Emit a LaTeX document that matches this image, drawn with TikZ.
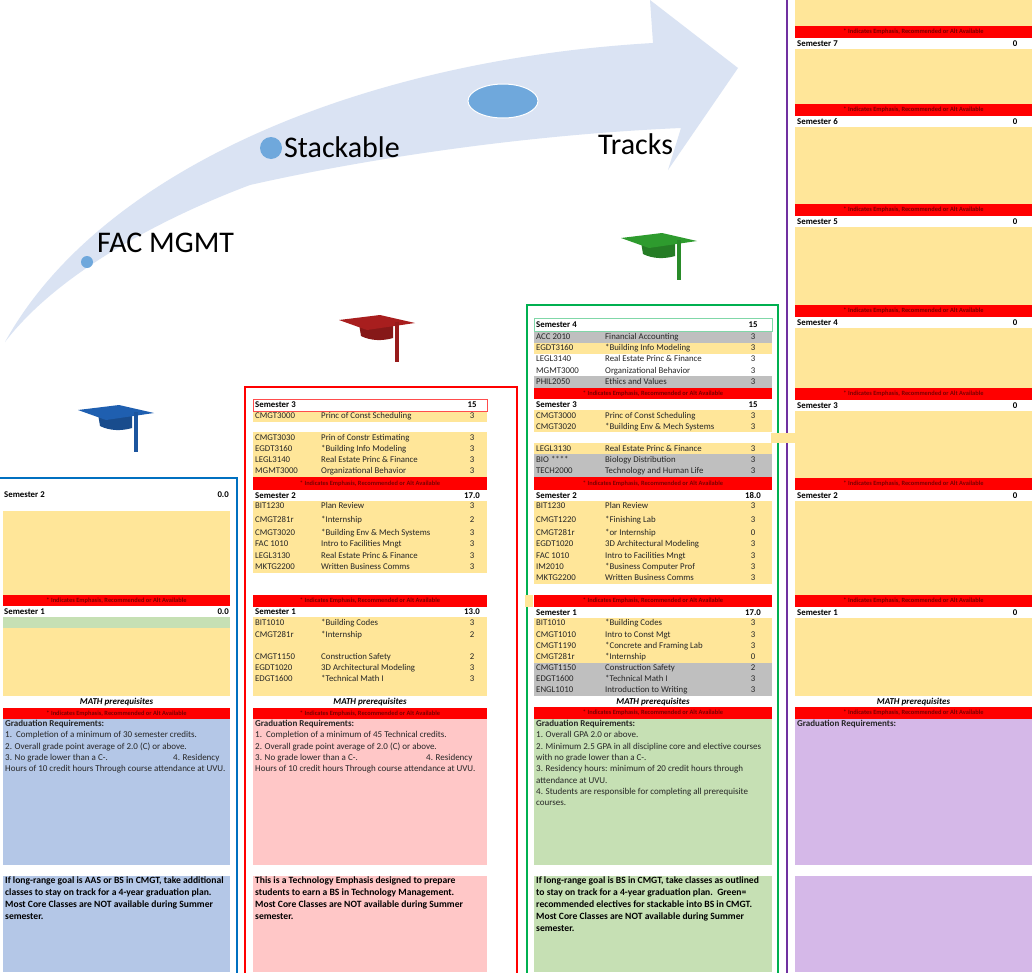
\documentclass[tikz,border=0pt]{standalone}
\usepackage{fontspec}
\setmainfont{Carlito}
\definecolor{arrowfill}{HTML}{DAE3F3}
\definecolor{dotblue}{HTML}{6FA8DC}
\definecolor{cyel}{HTML}{FFE699}
\definecolor{cgrey}{HTML}{BFBFBF}
\definecolor{cred}{HTML}{FF0000}
\definecolor{notered}{HTML}{7A0000}
\definecolor{cblue}{HTML}{B4C7E7}
\definecolor{cpink}{HTML}{FFC7C7}
\definecolor{cgreen}{HTML}{C6E0B4}
\definecolor{cpurple}{HTML}{D5B8E8}
\definecolor{fblue}{HTML}{0070C0}
\definecolor{fgreen}{HTML}{00B050}
\definecolor{fpurple}{HTML}{7030A0}
\definecolor{rowtext}{HTML}{262626}
\definecolor{capblue}{HTML}{1F5FB0}
\definecolor{capred}{HTML}{A81E1E}
\definecolor{capgreen}{HTML}{2E9B2E}
\newcommand\altnote{* Indicates Emphasis, Recommended or Alt Available}
\tikzset{pics/gradcap/.style={code={
  \fill[#1!80!black] (-18,2) -- (-16,14) .. controls (-6,19) and (6,19) .. (16,16) -- (16,2) -- cycle;
  \fill[#1] (-38,-2) -- (3,-7) -- (38,1) -- (-10,8) -- cycle;
  \draw[#1!90!black, line width=3.5pt] (20,0) -- (20,40);
}}}

\begin{document}
\begin{tikzpicture}
  [x=1pt,y=-1pt,
   txt/.style={anchor=west,inner sep=0pt,text height=6pt,text depth=1pt,font=\fontsize{8.8}{9}\selectfont,text=rowtext},
   num/.style={txt,anchor=center},
   semtxt/.style={txt,text=black,font=\fontsize{8.8}{9}\selectfont\bfseries},
   semnum/.style={semtxt,anchor=center},
   notetxt/.style={inner sep=0pt,text=notered,font=\fontsize{6.4}{7}\selectfont\bfseries},
   mathtxt/.style={inner sep=0pt,text height=6pt,text depth=1pt,font=\fontsize{9}{9}\selectfont\bfseries\itshape},
   gradtxt/.style={anchor=north west,inner sep=0pt,align=left,text=rowtext,font=\fontsize{9}{11.3}\selectfont},
   goaltxt/.style={anchor=north west,inner sep=0pt,align=left,font=\fontsize{9.6}{12}\selectfont\bfseries},
   bigtxt/.style={anchor=west,inner sep=0pt,text height=19pt,text depth=0pt,font=\fontsize{30}{31}\selectfont}]
  \useasboundingbox (0,0) rectangle (1036,972);
  \fill[white] (0,0) rectangle (1036,972);

  % arrow
  \fill[arrowfill] (5,342) .. controls (100,170) and (360,60) .. (653,43) -- (650,0) -- (738,68) -- (668,170) -- (681,128)
    .. controls (520,135) and (360,160) .. (250,185) .. controls (170,215) and (60,270) .. (5,342) -- cycle;
  \fill[dotblue] (87,262) circle (6);
  \fill[dotblue] (271,148) circle (11);
  \fill[dotblue, draw=white, line width=1pt] (503,101) ellipse [x radius=35, y radius=17];
  \node[bigtxt] (facmgmt) at (97,243) {FAC MGMT};
  \node[bigtxt] (stackable) at (284,148) {Stackable};
  \node[bigtxt] (tracks) at (598,145) {Tracks};

  \pic at (116,412) {gradcap=capblue};
  \pic at (377,322) {gradcap=capred};
  \pic at (659,240) {gradcap=capgreen};

  % frames
  \draw[fblue, line width=2.5pt] (-5,478) -- (237,478) -- (237,980);
  \draw[cred, line width=2.5pt] (245,980) -- (245,387) -- (517,387) -- (517,980);
  \draw[fgreen, line width=2.5pt] (527,980) -- (527,305) -- (778,305) -- (778,980);
  \draw[fpurple, line width=2.5pt] (787,-5) -- (787,980);

  % FAC MGMT column
  \fill[cyel] (3,511) rectangle (230,595);
  \fill[cred] (3,595) rectangle (230,606);
  \fill[cgreen] (3,617) rectangle (230,628);
  \fill[cyel] (3,628) rectangle (230,696);
  \fill[cred] (3,708) rectangle (230,719);
  \fill[cblue] (3,719) rectangle (230,865);
  \fill[cblue] (3,876) rectangle (230,972);
  \node[semtxt] (l2) at (4,495) {Semester 2};
  \node[semtxt,anchor=east] (l2n) at (229,495) {0.0};
  \node[notetxt] (ln1) at (116.5,600.5) {\altnote};
  \node[semtxt] (l1) at (4,611.5) {Semester 1};
  \node[semtxt,anchor=east] (l1n) at (229,611.5) {0.0};
  \node[mathtxt] (lmath) at (116.5,702) {MATH prerequisites};
  \node[notetxt] (ln0) at (116.5,713.5) {\altnote};
  \node[gradtxt] (lgrad) at (5,720) {\textbf{Graduation Requirements:}\\
    1.\ \ Completion of a minimum of 30 semester credits.\\
    2. Overall grade point average of 2.0 (C) or above.\\
    \makebox[168pt][l]{3. No grade lower than a C-.}4. Residency\\
    Hours of 10 credit hours Through course attendance at UVU.};
  \node[goaltxt] (lgoal) at (5,877) {If long-range goal is AAS or BS in CMGT, take additional\\
    classes to stay on track for a 4-year graduation plan.\\
    Most Core Classes are NOT available during Summer\\
    semester.};

  % Stackable column
  \fill[cyel] (253,411) rectangle (487,422);
  \fill[cyel] (253,432) rectangle (487,477);
  \fill[cred] (253,477) rectangle (487,490);
  \fill[cyel] (253,501) rectangle (487,573);
  \fill[cred] (253,595) rectangle (487,607);
  \fill[cyel] (253,617) rectangle (487,696);
  \fill[cred] (253,708) rectangle (487,719);
  \fill[cpink] (253,719) rectangle (487,865);
  \fill[cpink] (253,876) rectangle (487,972);
  \draw[cred!70, line width=1pt] (253,399) rectangle (487,411);
  \node[semtxt] (s3) at (255,405) {Semester 3};
  \node[semnum] (s3n) at (472,405) {15};
  \node[notetxt] (sn2) at (370,483.5) {\altnote};
  \node[semtxt] (s2) at (255,495.5) {Semester 2};
  \node[semnum] (s2n) at (472,495.5) {17.0};
  \node[notetxt] (sn1) at (370,601) {\altnote};
  \node[semtxt] (s1) at (255,612) {Semester 1};
  \node[semnum] (s1n) at (472,612) {13.0};
  \foreach \yy/\code/\ctitle/\nm [count=\i] in {416/CMGT3000/Princ of Const Scheduling/3,
      438/CMGT3030/Prin of Constr Estimating/3, 449/EGDT3160/*Building Info Modeling/3,
      460/LEGL3140/Real Estate Princ \& Finance/3, 471/MGMT3000/Organizational Behavior/3,
      506/BIT1230/Plan Review/3, 520/CMGT281r/*Internship/2,
      533/CMGT3020/*Building Env \& Mech Systems/3, 544/FAC 1010/Intro to Facilities Mngt/3,
      556/LEGL3130/Real Estate Princ \& Finance/3, 567/MKTG2200/Written Business Comms/3,
      623/BIT1010/*Building Codes/3, 635/CMGT281r/*Internship/2,
      657/CMGT1150/Construction Safety/2, 668/EGDT1020/3D  Architectural Modeling/3,
      679/EDGT1600/*Technical Math I/3}
    {
    \node[txt] (sc\i) at (255,\yy) {\code};
    \node[txt] (st\i) at (321,\yy) {\ctitle};
    \node[num] (sk\i) at (472,\yy) {\nm};
    }
  \node[mathtxt] (smath) at (370,702) {MATH prerequisites};
  \node[notetxt] (sn0) at (370,713.5) {\altnote};
  \node[gradtxt] (sgrad) at (255,720) {\textbf{Graduation Requirements:}\\
    1.\ \ Completion of a minimum of 45 Technical credits.\\
    2. Overall grade point average of 2.0 (C) or above.\\
    \makebox[171pt][l]{3. No grade lower than a C-.}4. Residency\\
    Hours of 10 credit hours Through course attendance at UVU.};
  \node[goaltxt] (sgoal) at (255,877) {This is a Technology Emphasis designed to prepare\\
    students to earn a BS in Technology Management.\\
    Most Core Classes are NOT available during Summer\\
    semester.};

  % Tracks column
  \fill[cgrey] (534,331) rectangle (772,343);
  \fill[cyel] (534,343) rectangle (772,354);
  \fill[cgrey] (534,376) rectangle (772,388);
  \fill[cred] (534,388) rectangle (772,399);
  \fill[cyel] (534,410) rectangle (772,432);
  \fill[cyel] (534,443) rectangle (772,454);
  \fill[cgrey] (534,454) rectangle (772,477);
  \fill[cred] (534,477) rectangle (772,490);
  \fill[cyel] (534,501) rectangle (772,584);
  \fill[cred] (534,595) rectangle (772,607);
  \fill[cyel] (534,618) rectangle (772,663);
  \fill[cgrey] (534,663) rectangle (772,696);
  \fill[cred] (534,707) rectangle (772,719);
  \fill[cgreen] (534,719) rectangle (772,865);
  \fill[cgreen] (534,876) rectangle (772,972);
  \draw[fgreen!50, line width=0.8pt] (534,318) rectangle (772,331);
  \node[semtxt] (t4) at (536,325) {Semester 4};
  \node[semnum] (t4n) at (753,325) {15};
  \node[notetxt] (tn3) at (653,393.5) {\altnote};
  \node[semtxt] (t3) at (536,405) {Semester 3};
  \node[semnum] (t3n) at (753,405) {15};
  \node[notetxt] (tn2) at (653,483.5) {\altnote};
  \node[semtxt] (t2) at (536,495.5) {Semester 2};
  \node[semnum] (t2n) at (753,495.5) {18.0};
  \node[notetxt] (tn1) at (653,601) {\altnote};
  \node[semtxt] (t1) at (536,612.5) {Semester 1};
  \node[semnum] (t1n) at (753,612.5) {17.0};
  \foreach \yy/\code/\ctitle/\nm [count=\i] in {337/ACC 2010/Financial Accounting/3,
      348/EGDT3160/*Building Info Modeling/3, 359/LEGL3140/Real Estate Princ \& Finance/3,
      371/MGMT3000/Organizational Behavior/3, 382/PHIL2050/Ethics and Values/3,
      416/CMGT3000/Princ of Const Scheduling/3, 427/CMGT3020/*Building Env \& Mech Systems/3,
      449/LEGL3130/Real Estate Princ \& Finance/3, 460/BIO ****/Biology Distribution/3,
      471/TECH2000/Technology and Human Life/3,
      506/BIT1230/Plan Review/3, 520/CMGT1220/*Finishing Lab/3, 533/CMGT281r/*or Internship/0,
      544/EGDT1020/3D  Architectural Modeling/3, 556/FAC 1010/Intro to Facilities Mngt/3,
      567/IM2010/*Business Computer Prof/3, 578/MKTG2200/Written Business Comms/3,
      623/BIT1010/*Building Codes/3, 635/CMGT1010/Intro to Const Mgt/3,
      646/CMGT1190/*Concrete and Framing Lab/3, 657/CMGT281r/*Internship/0,
      668/CMGT1150/Construction Safety/2, 679/EDGT1600/*Technical Math I/3,
      690/ENGL1010/Introduction to Writing/3}
    {
    \node[txt] (tc\i) at (536,\yy) {\code};
    \node[txt] (tt\i) at (605,\yy) {\ctitle};
    \node[num] (tk\i) at (753,\yy) {\nm};
    }
  \node[mathtxt] (tmath) at (653,702) {MATH prerequisites};
  \node[notetxt] (tn0) at (653,713) {\altnote};
  \node[gradtxt] (tgrad) at (536,720) {\textbf{Graduation Requirements:}\\
    1. Overall GPA 2.0 or above.\\
    2. Minimum 2.5 GPA in all discipline core and elective courses\\
    with no grade lower than a C-.\\
    3. Residency hours: minimum of 20 credit hours through\\
    attendance at UVU.\\
    4. Students are responsible for completing all prerequisite\\
    courses.};
  \node[goaltxt] (tgoal) at (536,877) {If long-range goal is BS in CMGT, take classes as outlined\\
    to stay on track for a 4-year graduation plan.\ \ Green=\\
    recommended electives for stackable into BS in CMGT.\\
    Most Core Classes are NOT available during Summer\\
    semester.};

  % open column
  \fill[cyel] (795,0) rectangle (1032,696);
  \foreach \yy/\s in {26/7,104/6,204/5,305/4,388/3,478/2,595/1}
    {
    \fill[cred] (795,\yy) rectangle (1032,\yy+12);
    \fill[white] (795,\yy+12) rectangle (1032,\yy+23);
    \node[notetxt] (pn\s) at (913.5,\yy+6) {\altnote};
    \node[semtxt] (ps\s) at (797,\yy+17.5) {Semester \s};
    \node[semnum] (pk\s) at (1015,\yy+17.5) {0};
    }
  \fill[cred] (795,707) rectangle (1032,719);
  \fill[cpurple] (795,719) rectangle (1032,865);
  \fill[cpurple] (795,876) rectangle (1032,972);
  \node[mathtxt] (pmath) at (913.5,702) {MATH prerequisites};
  \node[notetxt] (pn0) at (913.5,713) {\altnote};
  \node[gradtxt] (pgrad) at (797,720) {\textbf{Graduation Requirements:}};

  % stray cells
  \fill[cyel] (771,433) rectangle (795,443);
  \fill[cyel] (525,595) rectangle (533,607);
\end{tikzpicture}
\end{document}
